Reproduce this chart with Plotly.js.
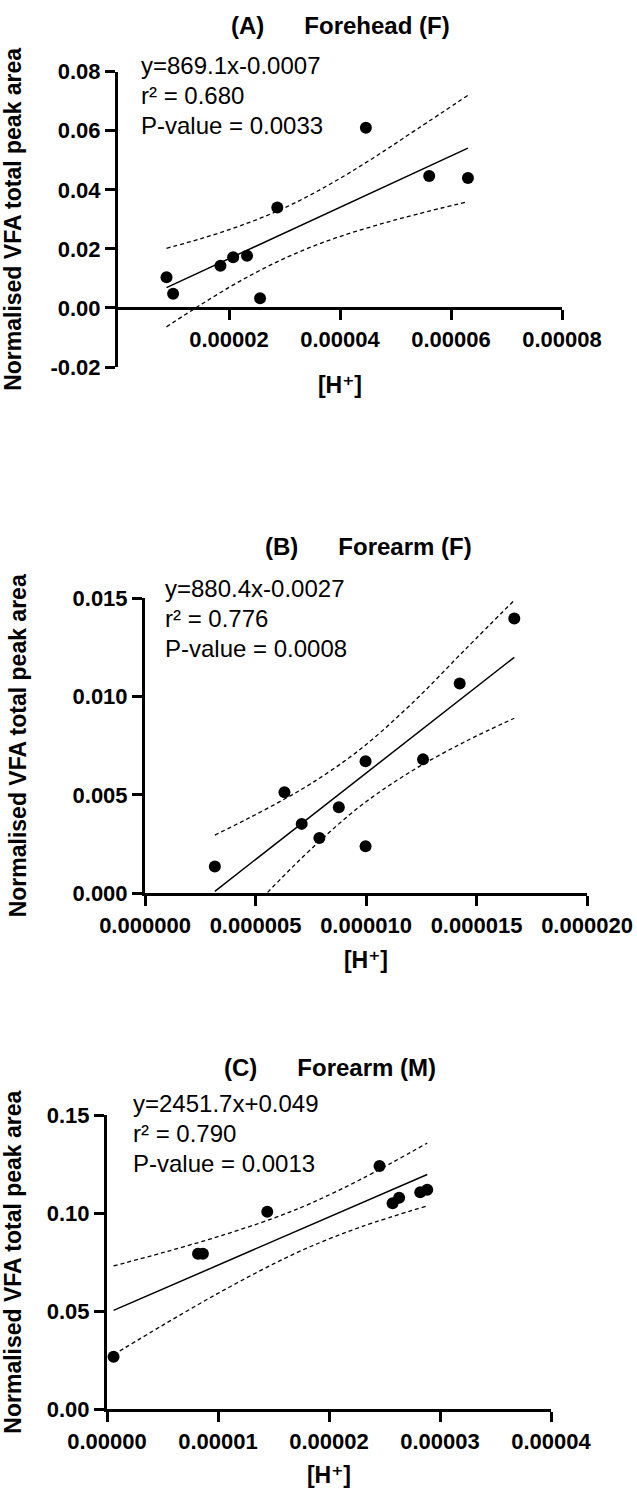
<!DOCTYPE html>
<html>
<head>
<meta charset="utf-8">
<script src="https://cdn.plot.ly/plotly-3.0.1.min.js"></script>
<style>
  html, body { margin: 0; padding: 0; background: #ffffff; }
  #chart { width: 637px; height: 1490px; }
</style>
</head>
<body>
<div id="chart"></div>
<script>
// ---------------- DATA ----------------
// Panel A : Forehead (F)
const aTitle = "(A)\u00a0\u00a0\u00a0\u00a0\u00a0\u00a0Forehead (F)";
const aX = [8.74e-6, 9.93e-6, 1.846e-5, 2.075e-5, 2.325e-5, 2.56e-5, 2.87e-5, 4.466e-5, 5.607e-5, 6.305e-5];
const aY = [0.0104, 0.0048, 0.0143, 0.0172, 0.0177, 0.0033, 0.0340, 0.0610, 0.0447, 0.0440];
const aFitX = [8.74e-6, 6.305e-5];
const aFitY = [0.0069, 0.0541];
const aBandX = [8.74e-6, 1.5e-5, 2.2e-5, 2.99e-5, 3.8e-5, 4.6e-5, 5.4e-5, 6.305e-5];
const aBandUp = [0.0202, 0.0235, 0.0278, 0.0338, 0.0417, 0.0508, 0.0607, 0.0720];
const aBandLo = [-0.0064, 0.0012, 0.0091, 0.0167, 0.0229, 0.0277, 0.0318, 0.0360];
const aXTicks = [0.00002, 0.00004, 0.00006, 0.00008];
const aXTickText = ["0.00002", "0.00004", "0.00006", "0.00008"];
const aYTicks = [-0.02, 0.00, 0.02, 0.04, 0.06, 0.08];
const aYTickText = ["-0.02", "0.00", "0.02", "0.04", "0.06", "0.08"];
const aStats = ["y=869.1x-0.0007", "r\u00b2 = 0.680", "P-value = 0.0033"];

// Panel B : Forearm (F)
const bTitle = "(B)\u00a0\u00a0\u00a0\u00a0\u00a0\u00a0Forearm (F)";
const bX = [3.16e-6, 6.31e-6, 7.09e-6, 7.89e-6, 8.77e-6, 9.98e-6, 9.98e-6, 1.258e-5, 1.424e-5, 1.671e-5];
const bY = [0.00136, 0.00514, 0.00353, 0.00281, 0.00438, 0.00671, 0.00239, 0.00681, 0.01067, 0.01397];
const bFitX = [3.16e-6, 1.671e-5];
const bFitY = [0.0001, 0.0120];
const bBandX = [3.16e-6, 4.5e-6, 6.0e-6, 7.5e-6, 9.67e-6, 1.2e-5, 1.45e-5, 1.671e-5];
const bBandUp = [0.00296, 0.00371, 0.00460, 0.00557, 0.00726, 0.00957, 0.01241, 0.01490];
const bBandLo = [-0.00280, -0.00119, 0.00057, 0.00223, 0.00437, 0.00617, 0.00772, 0.00890];
const bXTicks = [0, 0.000005, 0.000010, 0.000015, 0.000020];
const bXTickText = ["0.000000", "0.000005", "0.000010", "0.000015", "0.000020"];
const bYTicks = [0, 0.005, 0.010, 0.015];
const bYTickText = ["0.000", "0.005", "0.010", "0.015"];
const bStats = ["y=880.4x-0.0027", "r\u00b2 = 0.776", "P-value = 0.0008"];

// Panel C : Forearm (M)
const cTitle = "(C)\u00a0\u00a0\u00a0\u00a0\u00a0\u00a0Forearm (M)";
const cX = [5.9e-7, 8.2e-6, 8.64e-6, 1.444e-5, 2.455e-5, 2.573e-5, 2.632e-5, 2.822e-5, 2.885e-5];
const cY = [0.0268, 0.0793, 0.0793, 0.1007, 0.1240, 0.1050, 0.1078, 0.1106, 0.1119];
const cFitX = [5.9e-7, 2.885e-5];
const cFitY = [0.0504, 0.1197];
const cBandX = [5.9e-7, 5.0e-6, 1.0e-5, 1.5e-5, 1.84e-5, 2.3e-5, 2.885e-5];
const cBandUp = [0.0731, 0.0798, 0.0880, 0.0974, 0.1051, 0.1176, 0.1357];
const cBandLo = [0.0278, 0.0428, 0.0591, 0.0741, 0.0831, 0.0932, 0.1037];
const cXTicks = [0, 0.00001, 0.00002, 0.00003, 0.00004];
const cXTickText = ["0.00000", "0.00001", "0.00002", "0.00003", "0.00004"];
const cYTicks = [0, 0.05, 0.10, 0.15];
const cYTickText = ["0.00", "0.05", "0.10", "0.15"];
const cStats = ["y=2451.7x+0.049", "r\u00b2 = 0.790", "P-value = 0.0013"];

const yTitleText = "Normalised VFA total peak area";
const xTitleText = "[H\u207a]";

// ---------------- LAYOUT HELPERS ----------------
const W = 637, H = 1490;
const FONT = "Liberation Sans, Arial, Helvetica, DejaVu Sans, sans-serif";
const px = v => v / W;            // x pixel -> paper
const py = v => 1 - v / H;        // y pixel (from top) -> paper

function panelTraces(xs, ys, fx, fy, bx, bu, bl, xa, ya) {
  return [
    { x: bx, y: bu, xaxis: xa, yaxis: ya, type: "scatter", mode: "lines",
      line: { color: "#000", width: 1.3, dash: "4px,3px", shape: "spline" }, hoverinfo: "skip" },
    { x: bx, y: bl, xaxis: xa, yaxis: ya, type: "scatter", mode: "lines",
      line: { color: "#000", width: 1.3, dash: "4px,3px", shape: "spline" }, hoverinfo: "skip" },
    { x: fx, y: fy, xaxis: xa, yaxis: ya, type: "scatter", mode: "lines",
      line: { color: "#000", width: 1.5 }, hoverinfo: "skip" },
    { x: xs, y: ys, xaxis: xa, yaxis: ya, type: "scatter", mode: "markers",
      marker: { color: "#000", size: 12, symbol: "circle" }, cliponaxis: false }
  ];
}

function xAxis(domain, range, tv, tt, standoff, extra) {
  return Object.assign({
    domain: domain, range: range, tickmode: "array", tickvals: tv, ticktext: tt,
    showline: true, linecolor: "#000", linewidth: 3, mirror: false,
    ticks: "outside", ticklen: 10, tickwidth: 3, tickcolor: "#000",
    showgrid: false, zeroline: false, fixedrange: true,
    tickfont: { family: FONT, size: 22, color: "#000", weight: "bold" },
    title: { text: xTitleText, standoff: standoff,
             font: { family: FONT, size: 23, color: "#000", weight: "bold" } }
  }, extra || {});
}

function yAxis(domain, range, tv, tt, standoff, extra) {
  return Object.assign({
    domain: domain, range: range, tickmode: "array", tickvals: tv, ticktext: tt,
    showline: true, linecolor: "#000", linewidth: 3, mirror: false,
    ticks: "outside", ticklen: 10, tickwidth: 3, tickcolor: "#000",
    showgrid: false, zeroline: false, fixedrange: true,
    tickfont: { family: FONT, size: 22, color: "#000", weight: "bold" },
    title: { text: yTitleText, standoff: standoff,
             font: { family: FONT, size: 23, color: "#000", weight: "bold" } }
  }, extra || {});
}

function statsAnn(lines, xPix, baselines) {
  return lines.map((t, i) => ({
    text: t, xref: "paper", yref: "paper", x: px(xPix), y: py(baselines[i] - 8),
    xanchor: "left", yanchor: "middle", showarrow: false, align: "left",
    font: { family: FONT, size: 24, color: "#000" }
  }));
}

function titleAnn(text, xPix, yPix) {
  return { text: text, xref: "paper", yref: "paper", x: px(xPix), y: py(yPix),
    xanchor: "center", yanchor: "middle", showarrow: false, align: "center",
    font: { family: FONT, size: 24, color: "#000", weight: "bold" } };
}

// Panel boxes (pixels)
const A = { x0: 118, x1: 562, y0: 71.7, y1: 367, axisY: 308.3 };
const B = { x0: 145, x1: 587, y0: 598.3, y1: 893.3 };
const C = { x0: 107, x1: 551, y0: 1115, y1: 1409.3 };

const data = [].concat(
  panelTraces(aX, aY, aFitX, aFitY, aBandX, aBandUp, aBandLo, "x", "y"),
  panelTraces(bX, bY, bFitX, bFitY, bBandX, bBandUp, bBandLo, "x2", "y2"),
  panelTraces(cX, cY, cFitX, cFitY, cBandX, cBandUp, cBandLo, "x3", "y3")
);

const layout = {
  width: W, height: H,
  margin: { l: 0, r: 0, t: 0, b: 0, pad: 0 },
  paper_bgcolor: "#fff", plot_bgcolor: "#fff",
  showlegend: false, hovermode: false,
  font: { family: FONT, color: "#000", size: 22 },
  xaxis: xAxis([px(A.x0), px(A.x1)], [0, 0.00008], aXTicks, aXTickText, 26,
               { anchor: "free", position: py(A.axisY) }),
  yaxis: yAxis([py(A.y1), py(A.y0)], [-0.02, 0.08], aYTicks, aYTickText, 27, { anchor: "x" }),
  xaxis2: xAxis([px(B.x0), px(B.x1)], [0, 0.00002], bXTicks, bXTickText, 16, { anchor: "y2" }),
  yaxis2: yAxis([py(B.y1), py(B.y0)], [0, 0.015], bYTicks, bYTickText, 40, { anchor: "x2" }),
  xaxis3: xAxis([px(C.x0), px(C.x1)], [0, 0.00004], cXTicks, cXTickText, 15, { anchor: "y3" }),
  yaxis3: yAxis([py(C.y1), py(C.y0)], [0, 0.15], cYTicks, cYTickText, 25, { anchor: "x3" }),
  annotations: [].concat(
    [titleAnn(aTitle, 340, 25), titleAnn(bTitle, 368, 547), titleAnn(cTitle, 330, 1067)],
    statsAnn(aStats, 139, [73.3, 103.3, 133.3]),
    statsAnn(bStats, 163, [596.7, 626.7, 656.7]),
    statsAnn(cStats, 130.5, [1111.7, 1141.7, 1171.7])
  )
};

Plotly.newPlot("chart", data, layout, { staticPlot: true, displayModeBar: false });
</script>
</body>
</html>
